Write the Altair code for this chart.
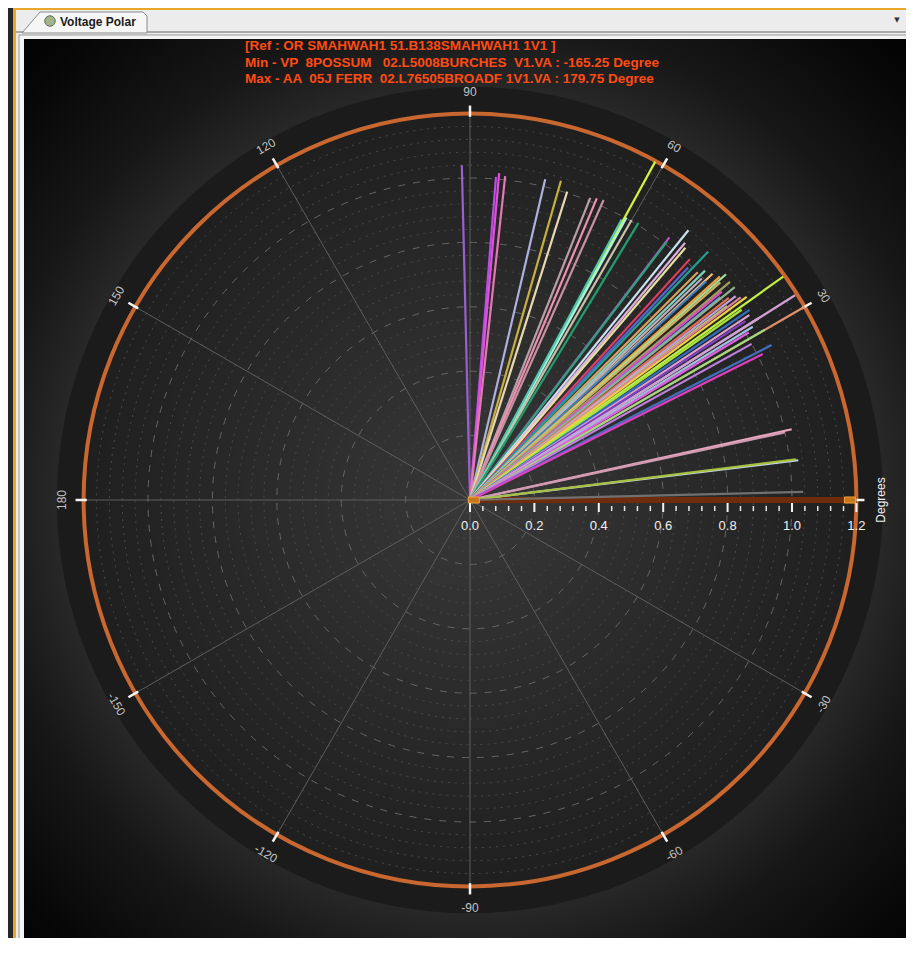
import math
import altair as alt
import pandas as pd

# ---------------- layout constants ----------------
K = 322.0            # pixels per magnitude unit
W, H = 898, 930      # view size
OX, OY = 462.0, 492.0  # origin of the polar plot in view pixels

# ---------------- data ----------------
LINE_ANGLE = [91.4, 85.4, 84.9, 83.8, 76.8, 74.1, 72.5, 68.3, 67.2, 66.0,
              61.3, 61.0, 61.6, 60.0, 58.7, 52.8, 52.7, 51.0, 50.1, 49.5,
              47.6, 46.8, 46.2, 45.0, 44.3, 43.7, 43.0, 42.8, 41.8, 41.4,
              41.0, 40.0, 39.6, 39.0, 38.8, 38.0, 37.5, 37.0, 36.8, 36.3,
              35.5, 35.0, 34.2, 33.5, 33.0, 32.2, 32.2, 31.5, 31.0, 30.0,
              30.0, 29.0, 27.2, 26.5, 12.4, 12.1, 6.9, 7.1, 1.4]
LINE_MAG = [1.04, 1.007, 1.019, 1.012, 1.023, 1.031, 1.004, 1.01, 1.016, 1.02,
            1.198, 1.003, 0.99, 1.004, 1.007, 1.024, 1.008, 1.078, 1.041, 1.03,
            1.013, 0.99, 1.069, 1.0, 1.02, 0.996, 1.03, 1.0, 1.041, 1.06,
            1.03, 1.054, 1.015, 1.0, 1.055, 1.02, 1.04, 1.0, 1.05, 1.066,
            1.195, 1.03, 1.05, 1.04, 1.02, 1.058, 1.193, 1.03, 1.01, 1.2,
            1.057, 1.0, 1.053, 1.016, 1.023, 1.0, 1.027, 1.02, 1.035]
LINE_COLOR = ["#9a5fd0", "#b94fe0", "#e050e0", "#e07ab0", "#b0b0e0", "#c8b040", "#e8d8b0", "#b8a0a8", "#f090b0", "#c890a0",
              "#d8f040", "#a8f0e0", "#50c8b0", "#c8c0a8", "#20a070", "#c050d0", "#30a080", "#c8e0f0", "#e0b0e0", "#e8e0a0",
              "#e04060", "#6060d0", "#20a090", "#e0a060", "#80d0c0", "#c0b0c0", "#f0c080", "#4080c0", "#f0a040", "#a0e0a0",
              "#d0b060", "#a0a060", "#e050c0", "#60a0e0", "#90b090", "#e07050", "#c0a0e0", "#b0e060", "#e080a0", "#f0d040",
              "#c0f040", "#a8e040", "#3070c0", "#e0a0d0", "#8040c0", "#d8d8f0", "#d0a0d0", "#a0c0e0", "#e060e0", "#e0906a",
              "#a0d880", "#c080e0", "#4070c0", "#e040c0", "#e8a8c0", "#d09ab0", "#c8d8f0", "#a8c040", "#707070"]

SPOKE_ANGLES = [0, 30, 60, 90, 120, 150, 180, 210, 240, 270, 300, 330]
ANGLE_LABEL_VALUES = [90, 60, 30, 120, 150, 180, -150, -120, -90, -60, -30]
ANGLE_LABEL_TEXT = ["90", "60", "30", "120", "150", "180", "-150", "-120", "-90", "-60", "-30"]
RADIAL_MAJOR = [0.0, 0.2, 0.4, 0.6, 0.8, 1.0, 1.2]
RADIAL_LABEL_TEXT = ["0.0", "0.2", "0.4", "0.6", "0.8", "1.0", "1.2"]
RADIAL_MINOR = [round(0.04 * k, 2) for k in range(1, 30) if k % 5 != 0]
RING_MAJOR = [0.2, 0.4, 0.6, 0.8, 1.0]
RING_MINOR = RADIAL_MINOR
R_OUTER = 1.2
R_DISK = 1.283
R_LABEL = 1.268
TITLE_LINES = ["[Ref : OR SMAHWAH1 51.B138SMAHWAH1 1V1 ]",
               "Min - VP  8POSSUM   02.L5008BURCHES  V1.VA : -165.25 Degree",
               "Max - AA  05J FERR  02.L76505BROADF 1V1.VA : 179.75 Degree"]
TAB_TEXT = "Voltage Polar"

# ---------------- scales ----------------
XS = alt.Scale(domain=[-OX / K, (W - OX) / K], nice=False, zero=False)
YS = alt.Scale(domain=[-(H - OY) / K, OY / K], nice=False, zero=False)
RS = alt.Scale(type="linear", domain=[0, 1.5], range=[0, 1.5 * K], zero=True, nice=False)

ONE = pd.DataFrame({"k": [0]})


def P(v):  # page pixel -> view pixel
    return v - 8


def rect(x1, y1, x2, y2, **kw):
    return alt.Chart(ONE).mark_rect(**kw).encode(
        x=alt.value(P(x1)), x2=alt.value(P(x2)), y=alt.value(P(y1)), y2=alt.value(P(y2)))


def spokes(df, **kw):
    return (alt.Chart(df).transform_calculate(
        x0="0", y0="0",
        x1="datum.r*cos(datum.a*PI/180)", y1="datum.r*sin(datum.a*PI/180)")
        .mark_rule(**kw)
        .encode(x=alt.X("x0:Q", scale=XS, axis=None), y=alt.Y("y0:Q", scale=YS, axis=None),
                x2="x1:Q", y2="y1:Q"))


def rings(radii, **kw):
    df = pd.DataFrame({"r": radii, "cx": 0.0, "cy": 0.0})
    return alt.Chart(df).mark_arc(theta=0, theta2=2 * math.pi, **kw).encode(
        x=alt.X("cx:Q", scale=XS, axis=None), y=alt.Y("cy:Q", scale=YS, axis=None),
        radius=alt.Radius("r:Q", scale=RS, stack=None))


layers = []

# ---------------- window chrome ----------------
layers.append(rect(8, 8, 13, 960, color="#262626"))
layers.append(rect(13, 8, 16, 960, color="#e8a62a"))
layers.append(rect(13, 8, 920, 10, color="#e8a62a"))
layers.append(rect(16, 10, 920, 960, color="#ececec"))
layers.append(rect(16, 31, 920, 33, color="#a8a8a8"))
layers.append(alt.Chart(ONE).mark_point(
    shape="M -1 0.168 L -0.712 -0.168 L 0.936 -0.168 L 1 -0.104 L 1 0.168 Z",
    size=15625, filled=True, fill="#f6f6f6", stroke="#8a8a8a", strokeWidth=1, opacity=1
).encode(x=alt.value(P(84.5)), y=alt.value(P(22.5))))
layers.append(alt.Chart(ONE).mark_point(shape="circle", size=110, filled=True, fill="#a3b48c",
                                        stroke="#607050", strokeWidth=1, opacity=1)
              .encode(x=alt.value(P(50)), y=alt.value(P(21))))
layers.append(alt.Chart(pd.DataFrame({"t": [TAB_TEXT]})).mark_text(
    align="left", baseline="middle", font="Liberation Sans", fontWeight="bold", fontSize=12, color="#1a1a1a"
).encode(x=alt.value(P(60)), y=alt.value(P(22)), text="t:N"))
layers.append(alt.Chart(pd.DataFrame({"t": ["▼"]})).mark_text(
    align="center", baseline="middle", font="DejaVu Sans", fontSize=7, color="#303030"
).encode(x=alt.value(P(897)), y=alt.value(P(20)), text="t:N"))
layers.append(rect(19, 35, 920, 960, color="#f4f4f4", stroke="#9a9a9a", strokeWidth=1))
BG_GRAD = {"gradient": "radial", "x1": 0.503, "y1": 0.511, "r1": 0, "x2": 0.503, "y2": 0.511, "r2": 0.74,
           "stops": [{"offset": 0, "color": "#3c3c3c"}, {"offset": 0.58, "color": "#2e2e2e"},
                     {"offset": 0.72, "color": "#171717"}, {"offset": 0.9, "color": "#060606"},
                     {"offset": 1, "color": "#000000"}]}
layers.append(rect(24, 39, 911, 941, fill=BG_GRAD))

# ---------------- polar frame ----------------
layers.append(rings([R_DISK], fill="#1b1b1b", stroke="#1b1b1b", strokeWidth=0))
DISK_GRAD = {"gradient": "radial", "x1": 0.5, "y1": 0.5, "r1": 0, "x2": 0.5, "y2": 0.5, "r2": 0.5,
             "stops": [{"offset": 0, "color": "#383838"}, {"offset": 1, "color": "#1f1f1f"}]}
layers.append(rings([R_OUTER], fill=DISK_GRAD))
layers.append(rings(RING_MINOR, fillOpacity=0, stroke="#4a4a4a", strokeWidth=1, strokeDash=[2, 5]))
layers.append(rings(RING_MAJOR, fillOpacity=0, stroke="#666666", strokeWidth=1, strokeDash=[7, 8]))
layers.append(spokes(pd.DataFrame({"a": SPOKE_ANGLES, "r": R_OUTER}), color="#5e5e5e", strokeWidth=1))
layers.append(rings([R_OUTER], fillOpacity=0, stroke="#c8672f", strokeWidth=4))

tick_df = pd.DataFrame({"a": SPOKE_ANGLES})
layers.append(alt.Chart(tick_df).transform_calculate(
    x0="1.19*cos(datum.a*PI/180)", y0="1.19*sin(datum.a*PI/180)",
    x1="1.225*cos(datum.a*PI/180)", y1="1.225*sin(datum.a*PI/180)")
    .mark_rule(color="#f4f4f4", strokeWidth=2.5)
    .encode(x=alt.X("x0:Q", scale=XS, axis=None), y=alt.Y("y0:Q", scale=YS, axis=None),
            x2="x1:Q", y2="y1:Q"))

lab_df = pd.DataFrame({"a": ANGLE_LABEL_VALUES, "t": ANGLE_LABEL_TEXT})
layers.append(alt.Chart(lab_df).transform_calculate(
    x=f"{R_LABEL}*cos(datum.a*PI/180)", y=f"{R_LABEL}*sin(datum.a*PI/180)",
    rot="((datum.a > 0 ? 90 - datum.a : -90 - datum.a) + 360) % 360")
    .mark_text(align="center", baseline="middle", font="Liberation Sans", fontSize=12, color="#c4c4c4")
    .encode(x=alt.X("x:Q", scale=XS, axis=None), y=alt.Y("y:Q", scale=YS, axis=None),
            text="t:N", angle=alt.Angle("rot:Q", scale=None)))

# radial axis band along 0 degrees
band_df = pd.DataFrame({"a": [0], "r": [R_OUTER]})
layers.append(spokes(band_df, color="#6e2c0c", strokeWidth=6))

# ---------------- data lines ----------------
ids = [f"L{i:02d}" for i in range(len(LINE_ANGLE))]
lines_df = pd.DataFrame({"id": ids, "a": LINE_ANGLE, "r": LINE_MAG})
layers.append(alt.Chart(lines_df).transform_calculate(
    x0="0", y0="0",
    x1="datum.r*cos(datum.a*PI/180)", y1="datum.r*sin(datum.a*PI/180)")
    .mark_rule(strokeWidth=2.2)
    .encode(x=alt.X("x0:Q", scale=XS, axis=None), y=alt.Y("y0:Q", scale=YS, axis=None),
            x2="x1:Q", y2="y1:Q",
            color=alt.Color("id:N", scale=alt.Scale(domain=ids, range=LINE_COLOR), legend=None)))

# handles on the radial axis
handle_df = pd.DataFrame({"x": [0.012, 1.18], "y": [0.0, 0.0]})
layers.append(alt.Chart(handle_df).mark_point(
    shape="M -1 -0.55 L 1 -0.55 L 1 0.55 L -1 0.55 Z", size=121, filled=True,
    fill="#c8781c", stroke="#f0a43a", strokeWidth=1, opacity=1)
    .encode(x=alt.X("x:Q", scale=XS, axis=None), y=alt.Y("y:Q", scale=YS, axis=None)))

# radial ticks and labels
layers.append(alt.Chart(pd.DataFrame({"x": RADIAL_MINOR, "y": 0.0})).mark_tick(
    orient="vertical", size=5, thickness=1.5, yOffset=8.5, color="#e6e6e6", opacity=1)
    .encode(x=alt.X("x:Q", scale=XS, axis=None), y=alt.Y("y:Q", scale=YS, axis=None)))
layers.append(alt.Chart(pd.DataFrame({"x": RADIAL_MAJOR, "y": 0.0})).mark_tick(
    orient="vertical", size=9, thickness=2, yOffset=7.5, color="#f4f4f4", opacity=1)
    .encode(x=alt.X("x:Q", scale=XS, axis=None), y=alt.Y("y:Q", scale=YS, axis=None)))
layers.append(alt.Chart(pd.DataFrame({"x": RADIAL_MAJOR, "y": 0.0, "t": RADIAL_LABEL_TEXT})).mark_text(
    align="center", baseline="middle", dy=26, font="Liberation Sans", fontSize=13, color="#f2f2f2")
    .encode(x=alt.X("x:Q", scale=XS, axis=None), y=alt.Y("y:Q", scale=YS, axis=None), text="t:N"))
layers.append(alt.Chart(pd.DataFrame({"x": [1.276], "y": [0.0], "t": ["Degrees"]})).mark_text(
    align="center", baseline="middle", angle=270, font="Liberation Sans", fontSize=12, color="#f2f2f2")
    .encode(x=alt.X("x:Q", scale=XS, axis=None), y=alt.Y("y:Q", scale=YS, axis=None), text="t:N"))

# ---------------- title ----------------
title_df = pd.DataFrame({"t": [s.replace("  ", " \u00a0") for s in TITLE_LINES], "row": [0, 1, 2]})
layers.append(alt.Chart(title_df).transform_calculate(py="38 + datum.row * 16.5")
              .mark_text(align="left", baseline="middle", font="Liberation Sans",
                         fontWeight="bold", fontSize=13.5, color="#ff4b14")
              .encode(x=alt.value(P(245)), y=alt.Y("py:Q", scale=None), text="t:N"))

chart = alt.layer(*layers).properties(
    width=W, height=H, padding=0, background="white",
    autosize=alt.AutoSizeParams(type="none")
).configure_view(stroke=None)

chart.save("out.html", embed_options={"renderer": "svg", "actions": False})
